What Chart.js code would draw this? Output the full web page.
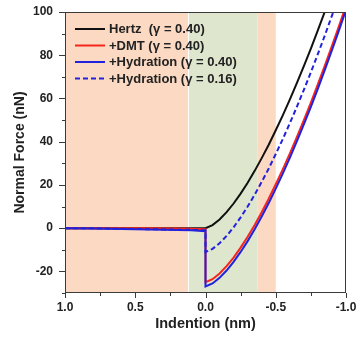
<!DOCTYPE html>
<html>
<head>
<meta charset="utf-8">
<script src="https://cdn.jsdelivr.net/npm/chart.js@4/dist/chart.umd.min.js"></script>
<style>
html,body{margin:0;padding:0;background:#fff;}
#wrap{width:358px;height:343px;position:relative;}
</style>
</head>
<body>
<div id="wrap"><canvas id="c"></canvas></div>
<script>
// ---- data ----
const seriesLabels = ['Hertz  (\u03B3 = 0.40)', '+DMT (\u03B3 = 0.40)', '+Hydration (\u03B3 = 0.40)', '+Hydration (\u03B3 = 0.16)'];
// approach (no contact) part, indentation axis value in nm
const approachX     = [1.0, 0.8, 0.6, 0.4, 0.2, 0.1, 0.0];
const hertzApproach = [0, 0, 0, 0, 0, 0, 0];
const dmtApproach   = [0, 0, 0, -0.1, -0.2, -0.3, -0.5];
const hyd40Approach = [0, -0.2, -0.4, -0.6, -0.8, -1.0, -1.4];
const hyd16Approach = [0, -0.1, -0.3, -0.5, -0.7, -0.8, -1.0];
// contact part
const contactX     = [0, -0.05, -0.1, -0.15, -0.2, -0.25, -0.3, -0.35, -0.4, -0.45, -0.5, -0.55, -0.6, -0.65, -0.7, -0.75, -0.8, -0.85, -0.9, -0.95, -1.0];
const hertzContact = [0, 1.4, 4.0, 7.4, 11.4, 16.0, 21.0, 26.5, 32.4, 38.6, 45.3, 52.2, 59.5, 67.1, 75.0, 83.1, 91.6, 100.3, 109.3, 118.5, 128];
const dmtContact   = [-25, -23.6, -21.0, -17.6, -13.6, -9.0, -4.0, 1.5, 7.4, 13.6, 20.3, 27.2, 34.5, 42.1, 50.0, 58.1, 66.6, 75.3, 84.3, 93.5, 103];
const hyd40Contact = [-27, -25.6, -23.0, -19.6, -15.6, -11.0, -6.0, -0.5, 5.4, 11.6, 18.3, 25.2, 32.5, 40.1, 48.0, 56.1, 64.6, 73.3, 82.3, 91.5, 101];
const hyd16Contact = [-11, -9.6, -7.0, -3.6, 0.4, 5.0, 10.0, 15.5, 21.4, 27.6, 34.3, 41.2, 48.5, 56.1, 64.0, 72.1, 80.6, 89.3, 98.3, 107.5, 117];
// shaded regions [from, to]
const peachBands = [[1.0, 0.125], [-0.37, -0.5]];
const greenBands = [[0.125, -0.37]];
const xTickLabels = ['1.0', '0.5', '0.0', '-0.5', '-1.0'];
const yTickLabels = ['100', '80', '60', '40', '20', '0', '-20'];

function pts(ax, ay, cx, cy) {
  const out = [];
  ax.forEach((x, i) => out.push({x: x, y: ay[i]}));
  cx.forEach((x, i) => out.push({x: x, y: cy[i]}));
  return out;
}

const RED = '#f5261c', BLUE = '#2222de', BLACK = '#111111';
const PEACH = '#fbd9c2', GREEN = '#dee6cd';

const bgPlugin = {
  id: 'bg',
  beforeDraw(chart) {
    const ctx = chart.ctx;
    ctx.save(); ctx.fillStyle = '#fff'; ctx.fillRect(0, 0, chart.width, chart.height); ctx.restore();
  },
  beforeDatasetsDraw(chart) {
    const ctx = chart.ctx, a = chart.chartArea, xs = chart.scales.x;
    ctx.save();
    ctx.fillStyle = PEACH;
    peachBands.forEach(b => {
      const p1 = xs.getPixelForValue(b[0]), p2 = xs.getPixelForValue(b[1]);
      ctx.fillRect(Math.min(p1, p2), a.top, Math.abs(p2 - p1), a.bottom - a.top);
    });
    ctx.fillStyle = GREEN;
    greenBands.forEach(b => {
      const p1 = xs.getPixelForValue(b[0]) + 1, p2 = xs.getPixelForValue(b[1]);
      ctx.fillRect(Math.min(p1, p2), a.top, Math.abs(p2 - p1), a.bottom - a.top);
    });
    ctx.restore();
  },
  afterDraw(chart) {
    const ctx = chart.ctx, a = chart.chartArea, xs = chart.scales.x, ys = chart.scales.y;
    ctx.save();
    ctx.strokeStyle = '#3a3a3a'; ctx.lineWidth = 1;
    ctx.strokeRect(Math.round(a.left) + 0.5, Math.round(a.top) + 0.5, Math.round(a.right - a.left) - 1, Math.round(a.bottom - a.top) - 1);
    ctx.beginPath();
    ys.ticks.forEach(t => {
      const v = t.value, py = Math.round(ys.getPixelForValue(v)) + 0.5;
      const len = (Math.abs(v % 20) < 1e-9) ? 6 : 3;
      ctx.moveTo(a.left - len, py); ctx.lineTo(a.left, py);
    });
    xs.ticks.forEach(t => {
      const v = t.value, px = Math.round(xs.getPixelForValue(v)) + 0.5;
      const major = Math.abs(v * 2 - Math.round(v * 2)) < 1e-9;
      const len = major ? 5 : 3;
      ctx.moveTo(px, a.bottom); ctx.lineTo(px, a.bottom + len);
    });
    ctx.stroke();
    // legend inside the plot
    ctx.font = 'bold 13px "Liberation Sans", Arial, sans-serif';
    ctx.textBaseline = 'middle';
    ctx.fillStyle = '#222';
    chart.data.datasets.forEach((ds, i) => {
      const y = 29 + i * 16.5;
      ctx.beginPath();
      ctx.strokeStyle = ds.borderColor; ctx.lineWidth = 2;
      ctx.setLineDash(ds.borderDash || []);
      ctx.moveTo(75, y); ctx.lineTo(105, y); ctx.stroke();
      ctx.setLineDash([]);
      ctx.fillText(ds.label, 109, y + 0.5);
    });
    ctx.restore();
  }
};

Chart.defaults.font.family = '"Liberation Sans", Arial, sans-serif';
Chart.defaults.font.weight = 'bold';
Chart.defaults.color = '#222';

new Chart(document.getElementById('c'), {
  type: 'line',
  data: {
    datasets: [
      {label: seriesLabels[0], data: pts(approachX, hertzApproach, contactX, hertzContact), borderColor: BLACK, borderWidth: 2, pointRadius: 0, order: 3},
      {label: seriesLabels[1], data: pts(approachX, dmtApproach, contactX, dmtContact), borderColor: RED, borderWidth: 2, pointRadius: 0, order: 2},
      {label: seriesLabels[2], data: pts(approachX, hyd40Approach, contactX, hyd40Contact), borderColor: BLUE, borderWidth: 2, pointRadius: 0, order: 0},
      {label: seriesLabels[3], data: pts(approachX, hyd16Approach, contactX, hyd16Contact), borderColor: BLUE, borderWidth: 2, borderDash: [5, 3], pointRadius: 0, order: 1}
    ]
  },
  options: {
    responsive: true,
    maintainAspectRatio: false,
    animation: false,
    devicePixelRatio: 1,
    layout: {padding: {top: 12, right: 12, left: 0, bottom: 0}},
    plugins: {legend: {display: false}, tooltip: {enabled: false}},
    elements: {line: {tension: 0, fill: false}},
    scales: {
      x: {
        type: 'linear', reverse: true, min: -1, max: 1,
        border: {display: false},
        grid: {display: false, drawTicks: false, tickLength: 0},
        ticks: {
          stepSize: 0.25, autoSkip: false, maxRotation: 0, padding: 7,
          font: {size: 12, weight: 'bold'}, color: '#222',
          callback: (v) => {
            if (Math.abs(v * 2 - Math.round(v * 2)) > 1e-9) return '';
            const idx = Math.round((1 - v) * 2);
            return xTickLabels[idx];
          }
        },
        title: {display: true, text: 'Indention (nm)', font: {size: 14.5, weight: 'bold'}, color: '#222', padding: {top: 0, bottom: 10}},
        afterFit: (s) => { s.height = 50; s.paddingLeft = 0; s.paddingRight = 0; }
      },
      y: {
        type: 'linear', min: -30, max: 100,
        border: {display: false},
        grid: {display: false, drawTicks: false, tickLength: 0},
        ticks: {
          stepSize: 10, autoSkip: false, padding: 12,
          font: {size: 12, weight: 'bold'}, color: '#222',
          callback: (v) => {
            if (v % 20 !== 0 || v < -20) return '';
            return yTickLabels[(100 - v) / 20];
          }
        },
        title: {display: true, text: 'Normal Force (nN)', font: {size: 14, weight: 'bold'}, color: '#222', padding: {top: 12, bottom: 0}},
        afterFit: (s) => { s.width = 65; s.paddingTop = 0; s.paddingBottom = 0; }
      }
    }
  },
  plugins: [bgPlugin]
});
</script>
</body>
</html>
